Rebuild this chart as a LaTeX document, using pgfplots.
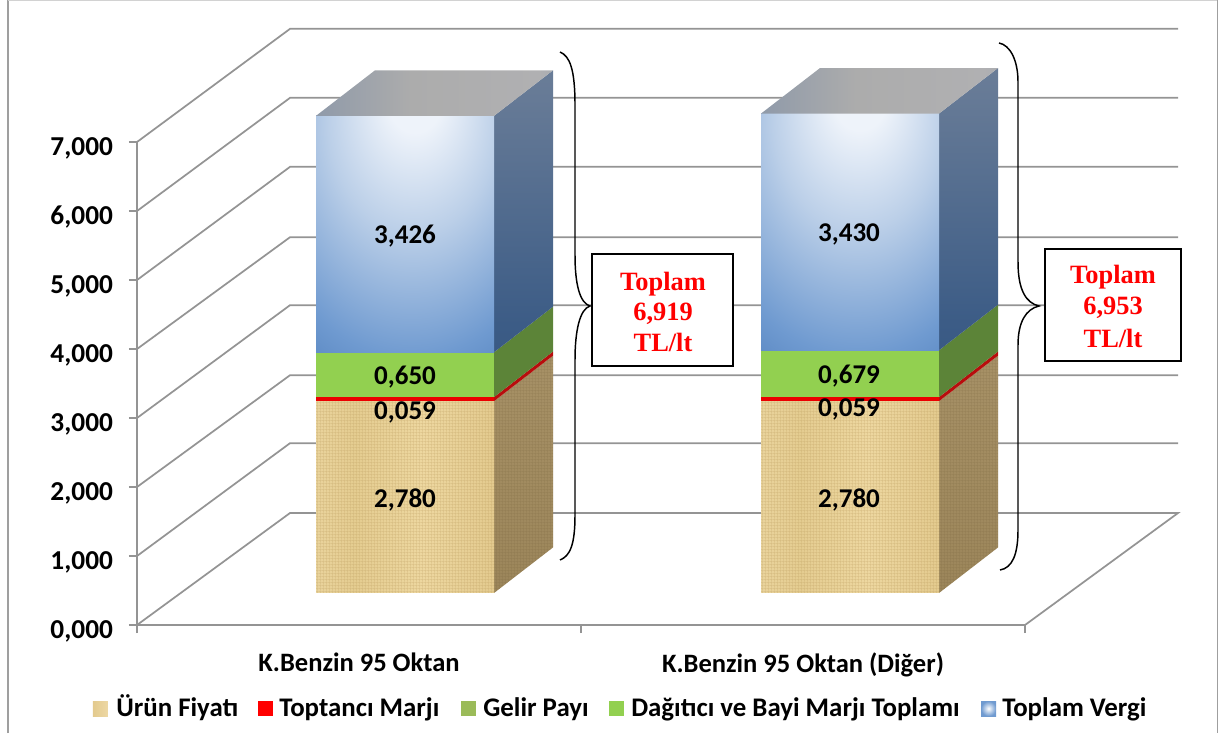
\documentclass[border=0pt]{standalone}
\usepackage{pgfplots}
\pgfplotsset{compat=1.18}
\usepackage{fontspec}
\setmainfont{Carlito}
\newfontfamily\rsf{Liberation Serif}
\usetikzlibrary{patterns}
\definecolor{gridc}{HTML}{949494}
\definecolor{b0}{HTML}{EEF3FA}\definecolor{b1}{HTML}{BBCFE8}\definecolor{b2}{HTML}{6F9AD0}\definecolor{b3}{HTML}{4A7AB8}
\definecolor{s0}{HTML}{2C4E7C}\definecolor{s1}{HTML}{3C5C86}\definecolor{s2}{HTML}{667A96}\definecolor{s3}{HTML}{7C8AA0}
\definecolor{t0}{HTML}{6C84A6}\definecolor{t1}{HTML}{ACACAC}\definecolor{t2}{HTML}{B0B0B2}\definecolor{t3}{HTML}{7C8EA8}
\definecolor{w0}{HTML}{E6CE94}\definecolor{w1}{HTML}{EDD8A4}\definecolor{w2}{HTML}{E4CC90}\definecolor{w3}{HTML}{EDD7A0}\definecolor{w4}{HTML}{E3CA8E}\definecolor{w5}{HTML}{E8D198}
\definecolor{ws0}{HTML}{968054}\definecolor{ws1}{HTML}{AC966C}
\definecolor{gr}{HTML}{92D050}\definecolor{grs}{HTML}{5C8438}\definecolor{olive}{HTML}{9BBB59}
\definecolor{rs}{HTML}{B80D0D}
\definecolor{wp}{HTML}{B8985A}\definecolor{wq}{HTML}{6E5A34}
\pgfdeclarepatternformonly{woodgrid}{\pgfqpoint{0pt}{0pt}}{\pgfqpoint{2.4pt}{2.4pt}}{\pgfqpoint{2.4pt}{2.4pt}}{%
 \pgfsetlinewidth{0.5pt}\pgfpathmoveto{\pgfqpoint{0pt}{1.2pt}}\pgfpathlineto{\pgfqpoint{2.4pt}{1.2pt}}%
 \pgfpathmoveto{\pgfqpoint{1.2pt}{0pt}}\pgfpathlineto{\pgfqpoint{1.2pt}{2.4pt}}\pgfusepath{stroke}}
\pgfdeclareradialshading{blueFront}{\pgfpoint{3bp}{32bp}}{%
 color(0bp)=(b0); color(8bp)=(b0); color(24bp)=(b1); color(44bp)=(b2);
 color(58bp)=(b3); color(100bp)=(b3)}
\pgfdeclareverticalshading{blueSide}{100bp}{%
 color(0bp)=(s0); color(30bp)=(s1); color(70bp)=(s2); color(100bp)=(s3)}
\pgfdeclarehorizontalshading{topFace}{100bp}{%
 color(0bp)=(t0); color(45bp)=(t1); color(72bp)=(t2); color(100bp)=(t3)}
\pgfdeclarehorizontalshading{woodFront}{100bp}{%
 color(0bp)=(w0); color(18bp)=(w1); color(36bp)=(w2); color(55bp)=(w3); color(75bp)=(w4); color(100bp)=(w5)}
\pgfdeclareverticalshading{woodSide}{100bp}{color(0bp)=(ws0); color(100bp)=(ws1)}
\newcommand{\seg}[5]{%
 \pgfmathsetmacro{\xa}{#1}\pgfmathsetmacro{\xb}{#1+178}\pgfmathsetmacro{\xc}{#1+237}
 \pgfmathsetmacro{\ya}{#2+0.464}\pgfmathsetmacro{\yb}{#3+0.464}
 \pgfmathsetmacro{\yc}{#2+0.464+0.66}\pgfmathsetmacro{\yd}{#3+0.464+0.66}
 \addplot[draw=none,#5] coordinates {(\xb,\ya)(\xc,\yc)(\xc,\yd)(\xb,\yb)} --cycle;
 \addplot[draw=none,#4] coordinates {(\xa,\ya)(\xb,\ya)(\xb,\yb)(\xa,\yb)} --cycle;
}
\newcommand{\topface}[2]{%
 \pgfmathsetmacro{\xa}{#1}\pgfmathsetmacro{\xb}{#1+178}\pgfmathsetmacro{\xc}{#1+237}\pgfmathsetmacro{\xd}{#1+59}
 \pgfmathsetmacro{\yb}{#2+0.464}\pgfmathsetmacro{\yd}{#2+0.464+0.66}
 \addplot[draw=none,shade,shading=topFace] coordinates {(\xa,\yb)(\xb,\yb)(\xc,\yd)(\xd,\yd)} --cycle;
}
\newcommand{\woodbar}[3]{%
 \seg{#1}{#2}{#3}{shade,shading=woodFront}{shade,shading=woodSide}
 \seg{#1}{#2}{#3}{pattern=woodgrid,pattern color=wp,opacity=0.35}{pattern=woodgrid,pattern color=wq,opacity=0.22}
}
\begin{document}
\begin{tikzpicture}
\begin{axis}[
  at={(0,0)},anchor=origin,
  scale only axis,width=666pt,height=362.25pt,
  xmin=137,xmax=1025,ymin=0,ymax=7,
  clip=false,
  axis lines*=left,
  axis line style={gridc,line width=1.5pt,-},
  tick style={gridc,line width=1.2pt},
  tick align=outside,major tick length=6pt,
  xtick={137,581,1025},xticklabels={,,},
  extra x ticks={359,803},
  extra x tick labels={K.Benzin 95 Oktan,K.Benzin 95 Oktan (Diğer)},
  extra x tick style={major tick length=0pt,tick label style={font=\bfseries\fontsize{19.9}{22}\selectfont,text=black,yshift=-17.5pt}},
  ytick={0,1,2,3,4,5,6,7},
  yticklabel style={font=\bfseries\fontsize{20.5}{23}\selectfont,text=black,xshift=-8.5pt,yshift=-4.5pt,
     /pgf/number format/assume math mode=true,
     /pgf/number format/fixed,/pgf/number format/fixed zerofill,/pgf/number format/precision=3,/pgf/number format/use comma},
]
\addplot[gridc,line width=1.3pt] coordinates {(137,0)(290,1.623)(1178,1.623)(1025,0)};
\addplot[gridc,line width=1.3pt] coordinates {(137,1)(290,2.635)(1178,2.635)};
\addplot[gridc,line width=1.3pt] coordinates {(137,2)(290,3.62)(1178,3.62)};
\addplot[gridc,line width=1.3pt] coordinates {(137,3)(290,4.635)(1178,4.635)};
\addplot[gridc,line width=1.3pt] coordinates {(137,4)(290,5.62)(1178,5.62)};
\addplot[gridc,line width=1.3pt] coordinates {(137,5)(290,6.64)(1178,6.64)};
\addplot[gridc,line width=1.3pt] coordinates {(137,6)(290,7.64)(1178,7.64)};
\addplot[gridc,line width=1.3pt] coordinates {(137,7)(290,8.64)(1178,8.64)};
% bar 1 : 2.780 + 0.059 + 0.650 + 3.426
\woodbar{316}{0}{2.780}
\seg{316}{2.780}{2.839}{fill=red!92!black}{fill=rs}
\seg{316}{2.839}{3.489}{fill=gr}{fill=grs}
\seg{316}{3.489}{6.915}{shade,shading=blueFront}{shade,shading=blueSide}
\topface{316}{6.915}
% bar 2 : 2.780 + 0.059 + 0.679 + 3.430
\woodbar{761}{0}{2.780}
\seg{761}{2.780}{2.839}{fill=red!92!black}{fill=rs}
\seg{761}{2.839}{3.518}{fill=gr}{fill=grs}
\seg{761}{3.518}{6.948}{shade,shading=blueFront}{shade,shading=blueSide}
\topface{761}{6.948}
\end{axis}
\begin{scope}[shift={(-102.75pt,468.75pt)},x=0.75pt,y=-0.75pt]
 \draw[gray!75,line width=1pt] (8,733)--(8,0.5);
 \draw[gray!35,line width=1pt] (8,0.5)--(1217.5,0.5);
 \draw[gray!75,line width=1pt] (1217.5,0.5)--(1217.5,733);
 \tikzset{val/.style={font=\bfseries\fontsize{20.3}{22}\selectfont,text=black,inner sep=0pt}}
 \node[val] at (405,236) {3,426};
 \node[val] at (405,377) {0,650};
 \node[val] at (405,412) {0,059};
 \node[val] at (405,500) {2,780};
 \node[val] at (849,234) {3,430};
 \node[val] at (849,376) {0,679};
 \node[val] at (849,409) {0,059};
 \node[val] at (849,500) {2,780};
 \draw[black,line width=1.1pt] (560,52) .. controls (570,56) and (575,70) .. (575,105)
   -- (575,255) .. controls (575,285) and (580,303) .. (590,306)
   .. controls (580,309) and (575,330) .. (575,360)
   -- (575,515) .. controls (575,545) and (570,556) .. (560,560);
 \draw[black,line width=1.1pt] (999,43) .. controls (1010,45) and (1018,60) .. (1018,82)
   -- (1018,262) .. controls (1018,290) and (1026,303) .. (1039,306)
   .. controls (1026,309) and (1018,322) .. (1018,345)
   -- (1018,530) .. controls (1018,555) and (1012,568) .. (1000,570);
 \tikzset{tot/.style={font=\rsf\bfseries\fontsize{19.8}{22}\selectfont,text=red,inner sep=0pt,anchor=base}}
 \draw[black,fill=white,line width=1.1pt] (592,254) rectangle (733,366);
 \node[tot] at (663,290) {Toplam};
 \node[tot] at (663,320) {6,919};
 \node[tot] at (663,351) {TL/lt};
 \draw[black,fill=white,line width=1.1pt] (1045,249) rectangle (1181,361);
 \node[tot] at (1113,283) {Toplam};
 \node[tot] at (1113,314) {6,953};
 \node[tot] at (1113,347) {TL/lt};
 \tikzset{leg/.style={font=\bfseries\fontsize{20.15}{22}\selectfont,text=black,inner sep=0pt,anchor=base west}}
 \fill[left color=w4,right color=w1] (93,701) rectangle (108,716);
 \node[leg] at (116,716) {Ürün Fiyatı};
 \fill[red] (258,701) rectangle (273,716);
 \node[leg] at (279,716) {Toptancı Marjı};
 \fill[olive] (461,701) rectangle (476,716);
 \node[leg] at (483,716) {Gelir Payı};
 \fill[gr] (609,701) rectangle (624,716);
 \node[leg] at (631,716) {Dağıtıcı ve Bayi Marjı Toplamı};
 \shade[inner color=white,outer color=b2] (981,701) rectangle (996,716);
 \node[leg] at (1002,716) {Toplam Vergi};
 \pgfresetboundingbox
 \useasboundingbox (0,0) rectangle (1219,733);
\end{scope}
\end{tikzpicture}
\end{document}
